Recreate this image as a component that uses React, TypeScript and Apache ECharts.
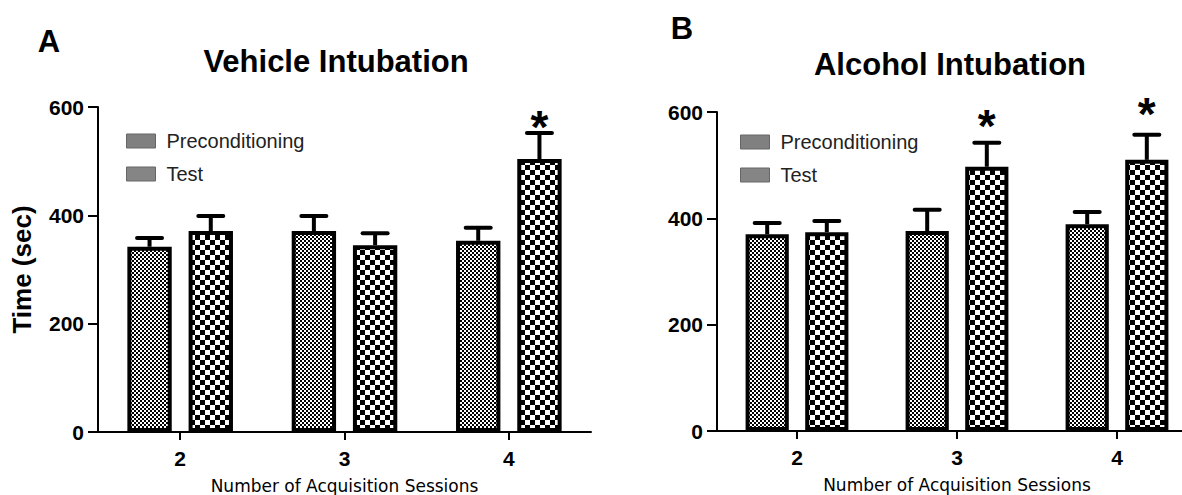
import React, { useEffect, useRef } from "react";
import * as echarts from "echarts";

const categories = ["2", "3", "4"];
const yTicks = [0, 200, 400, 600];

// Panel A: Vehicle Intubation
const vehiclePre = [342, 371, 353];
const vehiclePreSE = [16, 28, 24];
const vehicleTest = [371, 345, 504];
const vehicleTestSE = [28, 22, 48];
const vehicleTestStar = [null, null, 581];

// Panel B: Alcohol Intubation
const alcoholPre = [370, 376, 389];
const alcoholPreSE = [21, 40, 23];
const alcoholTest = [374, 497, 510];
const alcoholTestSE = [21, 45, 47];
const alcoholTestStar = [null, 592, 615];

const ARIAL = '"Liberation Sans", Arial, Helvetica, sans-serif';

function checker(cell: number): string {
  const c = document.createElement("canvas");
  c.width = cell * 2;
  c.height = cell * 2;
  const ctx = c.getContext("2d")!;
  ctx.fillStyle = "#ffffff";
  ctx.fillRect(0, 0, cell * 2, cell * 2);
  ctx.fillStyle = "#000000";
  ctx.fillRect(0, 0, cell, cell);
  ctx.fillRect(cell, cell, cell, cell);
  return c.toDataURL();
}

export default function App() {
  const ref = useRef<HTMLDivElement>(null);
  useEffect(() => {
    if (!ref.current) return;
    const chart = echarts.init(ref.current, undefined, { renderer: "svg" });
    const fine = { image: checker(2), repeat: "repeat", imageWidth: 4, imageHeight: 4 };
    const coarse = { image: checker(5), repeat: "repeat", imageWidth: 10, imageHeight: 10 };

    const BAR_W = 0.27;
    const BAR_GAP = 0.38;
    const off = (BAR_W + BAR_W * BAR_GAP) / 2;

    const errSeries = (
      idx: number,
      vals: number[],
      se: number[],
      stars: (number | null)[] | null,
      sign: number
    ) => ({
      type: "custom",
      xAxisIndex: idx,
      yAxisIndex: idx,
      z: 5,
      silent: true,
      clip: false,
      data: vals.map((v, i) => [i, v, se[i], stars && stars[i] != null ? stars[i] : -1]),
      encode: { x: 0, y: 1 },
      renderItem: (params: any, api: any) => {
        const cat = api.value(0);
        const v = api.value(1);
        const e = api.value(2);
        const st = api.value(3);
        const band = api.size([1, 0])[0];
        const base = api.coord([cat, v]);
        const top = api.coord([cat, v + e]);
        const x = base[0] + sign * off * band;
        const capW = 25;
        const children: any[] = [
          {
            type: "line",
            shape: { x1: x, y1: base[1], x2: x, y2: top[1] },
            style: { stroke: "#000", lineWidth: 4 },
          },
          {
            type: "line",
            shape: { x1: x - capW / 2, y1: top[1], x2: x + capW / 2, y2: top[1] },
            style: { stroke: "#000", lineWidth: 4, lineCap: "round" },
          },
        ];
        if (st > 0) {
          const sp = api.coord([cat, st]);
          children.push({
            type: "text",
            x: x,
            y: sp[1] + 10,
            style: {
              text: "*",
              fontSize: 46,
              fontWeight: "bold",
              fontFamily: ARIAL,
              fill: "#000",
              align: "center",
              verticalAlign: "middle",
            },
          });
        }
        return { type: "group", children };
      },
    });

    const barSeries = (idx: number, name: string, vals: number[], pattern: any) => ({
      type: "bar",
      name,
      xAxisIndex: idx,
      yAxisIndex: idx,
      data: vals,
      barWidth: BAR_W * 100 + "%",
      barGap: BAR_GAP * 100 + "%",
      itemStyle: { color: pattern, borderColor: "#000", borderWidth: 4 },
      z: 2,
    });

    const xAxis = (idx: number) => ({
      type: "category",
      gridIndex: idx,
      data: categories,
      axisLine: { show: true, lineStyle: { color: "#000", width: 2 } },
      axisTick: { show: true, alignWithLabel: true, length: 8, lineStyle: { color: "#000", width: 2 } },
      axisLabel: { color: "#000", fontFamily: ARIAL, fontWeight: "bold", fontSize: 21, margin: 16 },
      name: "Number of Acquisition Sessions",
      nameLocation: "middle",
      nameGap: 45,
      nameTextStyle: { color: "#000", fontFamily: '"DejaVu Sans", sans-serif', fontSize: 17 },
      splitLine: { show: false },
    });

    const yAxis = (idx: number, withName: boolean) => ({
      type: "value",
      gridIndex: idx,
      min: yTicks[0],
      max: yTicks[yTicks.length - 1],
      interval: yTicks[1] - yTicks[0],
      axisLine: { show: true, lineStyle: { color: "#000", width: 2 } },
      axisTick: { show: true, length: 10, lineStyle: { color: "#000", width: 2 } },
      axisLabel: { color: "#000", fontFamily: ARIAL, fontWeight: "bold", fontSize: 21, margin: 14 },
      splitLine: { show: false },
      name: withName ? "Time (sec)" : "",
      nameLocation: "middle",
      nameGap: 63,
      nameTextStyle: { color: "#000", fontFamily: ARIAL, fontWeight: "bold", fontSize: 26 },
    });

    const legend = (left: number, top: number) => ({
      orient: "vertical",
      left,
      top,
      itemWidth: 29,
      itemHeight: 14,
      itemGap: 13,
      icon: "rect",
      textStyle: { color: "#222", fontFamily: ARIAL, fontSize: 20, padding: [0, 0, 0, 6] },
      data: [
        { name: "Preconditioning", itemStyle: { color: "#808080", borderColor: "#666", borderWidth: 1 } },
        { name: "Test", itemStyle: { color: "#858585", borderColor: "#666", borderWidth: 1 } },
      ],
      selectedMode: false,
    });

    const titleText = (text: string, x: number, y: number, size: number) => ({
      type: "text",
      x,
      y,
      style: {
        text,
        fontSize: size,
        fontWeight: "bold",
        fontFamily: ARIAL,
        fill: "#000",
        align: "center",
        verticalAlign: "middle",
      },
    });

    chart.setOption({
      animation: false,
      backgroundColor: "#fff",
      grid: [
        { left: 98, top: 107, width: 493, height: 325, outerBoundsMode: "none", containLabel: false },
        { left: 717, top: 112, width: 480, height: 319, outerBoundsMode: "none", containLabel: false },
      ],
      xAxis: [xAxis(0), xAxis(1)],
      yAxis: [yAxis(0, true), yAxis(1, false)],
      legend: [legend(121, 126), legend(735, 127)],
      graphic: [
        titleText("A", 49, 41, 31),
        titleText("Vehicle Intubation", 336, 61, 31),
        titleText("B", 682, 28, 31),
        titleText("Alcohol Intubation", 950, 64, 31),
      ],
      series: [
        barSeries(0, "Preconditioning", vehiclePre, fine),
        barSeries(0, "Test", vehicleTest, coarse),
        errSeries(0, vehiclePre, vehiclePreSE, null, -1),
        errSeries(0, vehicleTest, vehicleTestSE, vehicleTestStar, 1),
        barSeries(1, "Preconditioning", alcoholPre, fine),
        barSeries(1, "Test", alcoholTest, coarse),
        errSeries(1, alcoholPre, alcoholPreSE, null, -1),
        errSeries(1, alcoholTest, alcoholTestSE, alcoholTestStar, 1),
      ],
    });
    return () => chart.dispose();
  }, []);
  return (
    <div
      ref={ref}
      style={{ position: "fixed", left: 0, top: 0, width: 1182, height: 495, background: "#fff" }}
    />
  );
}
